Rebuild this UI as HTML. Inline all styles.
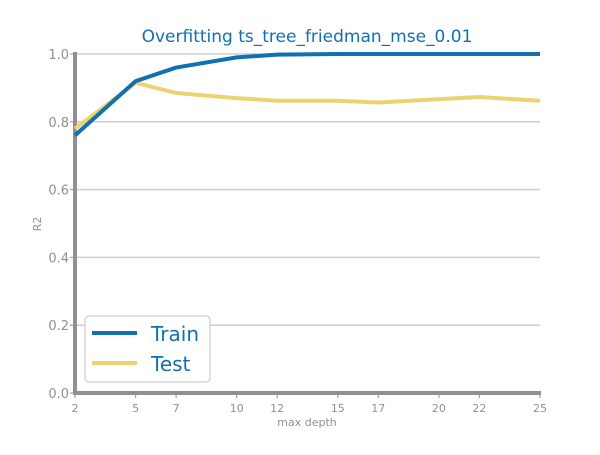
<!DOCTYPE html>
<html><head><meta charset="utf-8"><style>
body{margin:0;background:#fff;}
svg text{font-family:"DejaVu Sans","Liberation Sans",sans-serif;}
</style></head><body>
<svg id="chart" width="600" height="450" xmlns="http://www.w3.org/2000/svg">
<rect width="600" height="450" fill="#fff"/>
<text x="307" y="42" text-anchor="middle" font-size="17" fill="#1170b0">Overfitting ts_tree_friedman_mse_0.01</text>
<g id="grid"></g><g id="axes"></g><g id="series"></g>
<text x="307" y="426" text-anchor="middle" font-size="11" fill="#909090">max depth</text>
<text x="41" y="224" text-anchor="middle" font-size="11" fill="#909090" transform="rotate(-90 41 224)">R2</text>
<g>
<rect x="85" y="316" width="125" height="66" rx="4" fill="#fff" stroke="#d5d5d5" stroke-width="1.5"/>
<line x1="92" y1="333" x2="137" y2="333" stroke="#1170b0" stroke-width="4"/>
<text x="151" y="341" font-size="20" fill="#1170b0">Train</text>
<line x1="92" y1="363" x2="137" y2="363" stroke="#ecd372" stroke-width="4"/>
<text x="151" y="371" font-size="20" fill="#1170b0">Test</text>
</g>
</svg>
<script>
const depths=[2,5,7,10,12,15,17,20,22,25];
const trainVals=[0.76,0.92,0.96,0.99,0.998,1.0,1.0,1.0,1.0,1.0];
const testVals=[0.78,0.915,0.885,0.87,0.862,0.862,0.857,0.867,0.873,0.862];
const yTicks=[0,0.2,0.4,0.6,0.8,1.0];
const yTickLabels=["0.0","0.2","0.4","0.6","0.8","1.0"];
const NS="http://www.w3.org/2000/svg";
const xs=v=>75+(v-2)*(540-75)/23;
const ys=v=>393-v*339;
function mk(tag,attrs,parent){const e=document.createElementNS(NS,tag);for(const k in attrs)e.setAttribute(k,attrs[k]);document.getElementById(parent).appendChild(e);return e;}
yTicks.forEach((t,i)=>{
 const g=mk('line',{x1:75,x2:540,y1:ys(t),y2:ys(t),stroke:'#cfcfcf','stroke-width':1.5},'grid');
 
 
 const tk=mk('line',{x1:70,x2:75,y1:ys(t),y2:ys(t),stroke:'#909090','stroke-width':1},'axes');
 
 
 const tx=mk('text',{x:69,y:ys(t)+5,'text-anchor':'end','font-size':13,fill:'#909090'},'axes');
 tx.textContent=yTickLabels[i];
 
 
});
const ya=mk('line',{x1:75,x2:75,y1:52,y2:395,stroke:'#909090','stroke-width':4},'axes');


const xa=mk('line',{x1:73,x2:541,y1:393,y2:393,stroke:'#909090','stroke-width':4},'axes');


depths.forEach(d=>{
 const tk=mk('line',{x1:xs(d),x2:xs(d),y1:393,y2:398,stroke:'#909090','stroke-width':1},'axes');
 
 
 const tx=mk('text',{x:xs(d),y:412,'text-anchor':'middle','font-size':11,fill:'#909090'},'axes');
 tx.textContent=d;
 
 
});
function line(vals,color,name){
 const p=mk('polyline',{points:vals.map((v,i)=>xs(depths[i])+','+ys(v)).join(' '),fill:'none',stroke:color,'stroke-width':4,'stroke-linejoin':'round'},'series');
 
 
}
line(testVals,'#ecd372','test-line');
line(trainVals,'#1170b0','train-line');
</script>
</body></html>
